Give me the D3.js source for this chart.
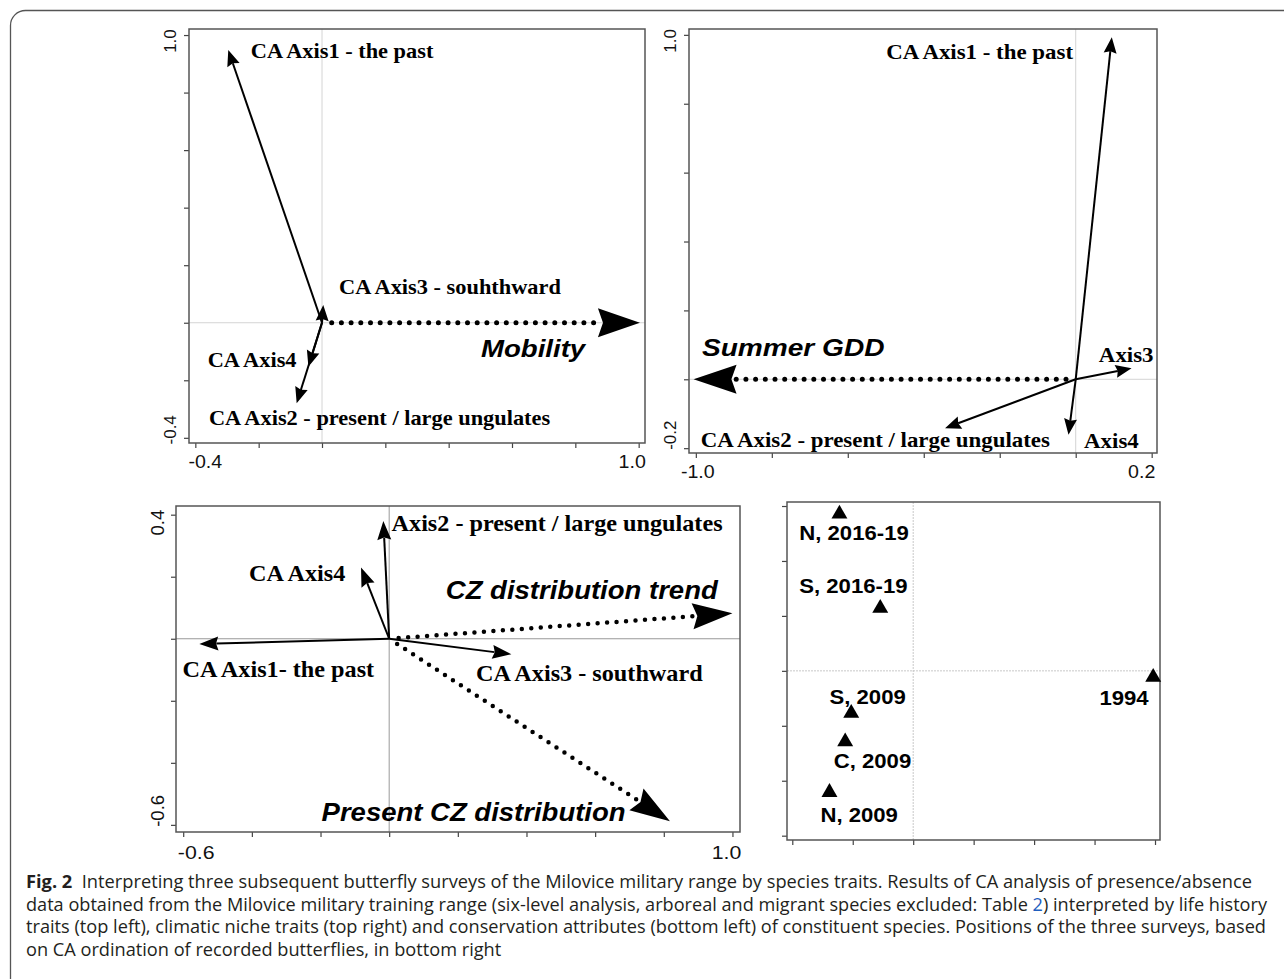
<!DOCTYPE html>
<html>
<head>
<meta charset="utf-8">
<script src="https://cdn.jsdelivr.net/npm/d3@7"></script>
<style>
  body { margin: 0; background: #fff; }
  svg { display: block; }
  .serif { font-family: "Liberation Serif", "Times New Roman", serif; font-weight: bold; fill: #000; }
  .trait { font-family: "Liberation Sans", Arial, sans-serif; font-weight: bold; font-style: italic; fill: #000; }
  .site { font-family: "Liberation Sans", Arial, sans-serif; font-weight: bold; fill: #000; }
  .ticklab { font-family: "Liberation Sans", Arial, sans-serif; fill: #111; }
  .caption { font-family: "Open Sans", "Noto Sans", sans-serif; fill: #231f20; white-space: pre; }
</style>
</head>
<body>
<script>
// ---- top left: life history traits ----
const lifeAxes = ["CA Axis1 - the past", "CA Axis3 - souhthward", "CA Axis4", "CA Axis2 - present / large ungulates"];
const lifeAxisX = [-0.296, 0.004, -0.043, -0.080];
const lifeAxisY = [0.948, 0.062, -0.153, -0.280];
const lifeTraits = ["Mobility"];
const lifeTraitX = [1.004];
const lifeTraitY = [0];
const lifeXTicks = [-0.4, -0.2, 0, 0.2, 0.4, 0.6, 0.8, 1.0];
const lifeYTicks = [-0.4, -0.2, 0, 0.2, 0.4, 0.6, 0.8, 1.0];
const lifeXLabels = ["-0.4", "1.0"];
const lifeYLabels = ["-0.4", "1.0"];

// ---- top right: climatic niche traits ----
const climAxes = ["CA Axis1 - the past", "Axis3", "Axis4", "CA Axis2 - present / large ungulates"];
const climAxisX = [0.095, 0.147, -0.019, -0.344];
const climAxisY = [0.993, 0.032, -0.161, -0.142];
const climTraits = ["Summer GDD"];
const climTraitX = [-1.006];
const climTraitY = [0];
const climXTicks = [-1.0, -0.8, -0.6, -0.4, -0.2, 0, 0.2];
const climYTicks = [-0.2, 0, 0.2, 0.4, 0.6, 0.8, 1.0];
const climXLabels = ["-1.0", "0.2"];
const climYLabels = ["-0.2", "1.0"];

// ---- bottom left: conservation attributes ----
const consAxes = ["CA Axis1- the past", "Axis2 - present / large ungulates", "CA Axis4", "CA Axis3 - southward"];
const consAxisX = [-0.553, -0.017, -0.082, 0.356];
const consAxisY = [-0.017, 0.380, 0.230, -0.050];
const consTraits = ["CZ distribution trend", "Present CZ distribution"];
const consTraitX = [1.000, 0.818];
const consTraitY = [0.082, -0.588];
const consXTicks = [-0.6, -0.4, -0.2, 0, 0.2, 0.4, 0.6, 0.8, 1.0];
const consYTicks = [-0.6, -0.4, -0.2, 0, 0.2, 0.4];
const consXLabels = ["-0.6", "1.0"];
const consYLabels = ["-0.6", "0.4"];

// ---- bottom right: survey positions ----
const surveys = ["N, 2016-19", "S, 2016-19", "1994", "S, 2009", "C, 2009", "N, 2009"];
const surveyX = [-0.244, -0.109, 0.794, -0.205, -0.225, -0.277];
const surveyY = [0.571, 0.228, -0.023, -0.154, -0.258, -0.442];
const siteXTicks = [-0.4, -0.2, 0, 0.2, 0.4, 0.6, 0.8];
const siteYTicks = [-0.6, -0.4, -0.2, 0, 0.2, 0.4, 0.6];

const captionLines = [
  ["Fig. 2", "\u00a0 Interpreting three subsequent butterfly surveys of the Milovice military range by species traits. Results of CA analysis of presence/absence"],
  ["", "data obtained from the Milovice military training range (six-level analysis, arboreal and migrant species excluded: Table ", "2", ") interpreted by life history"],
  ["", "traits (top left), climatic niche traits (top right) and conservation attributes (bottom left) of constituent species. Positions of the three surveys, based"],
  ["", "on CA ordination of recorded butterflies, in bottom right"]
];

const W = 1284, H = 979;
const svg = d3.select('body').append('svg').attr('width', W).attr('height', H);

svg.append('rect')
  .attr('x', 10.5).attr('y', 10.5).attr('width', 1320).attr('height', 985)
  .attr('rx', 15).attr('fill', 'none').attr('stroke', '#555').attr('stroke-width', 1.3);

function stretch(sel, k) {
  sel.each(function () {
    const w = this.getComputedTextLength();
    this.setAttribute('textLength', w * k);
    this.setAttribute('lengthAdjust', 'spacingAndGlyphs');
  });
}

function arrow(g, x0, y0, x1, y1, o) {
  const dx = x1 - x0, dy = y1 - y0, L = Math.hypot(dx, dy);
  const ux = dx / L, uy = dy / L;
  const bx = x1 - ux * o.len, by = y1 - uy * o.len;
  const line = g.append('line')
    .attr('x1', x0).attr('y1', y0)
    .attr('x2', bx + ux * 2).attr('y2', by + uy * 2)
    .attr('stroke', '#000').attr('stroke-width', o.width);
  if (o.dotted) {
    line.attr('stroke-dasharray', '0 ' + o.gap).attr('stroke-linecap', 'round')
      .attr('x1', x0 + ux * o.gap).attr('y1', y0 + uy * o.gap);
  }
  g.append('path')
    .attr('d', `M${x1},${y1}L${bx - uy * o.half},${by + ux * o.half}L${bx + ux * o.len * 0.12},${by + uy * o.len * 0.12}L${bx + uy * o.half},${by - ux * o.half}Z`)
    .attr('fill', '#000');
}

function panel(p) {
  const x = d3.scaleLinear().domain(p.xDomain).range([p.left, p.right]);
  const y = d3.scaleLinear().domain(p.yDomain).range([p.bottom, p.top]);
  const g = svg.append('g');

  // zero reference lines
  g.append('line').attr('x1', p.left).attr('x2', p.right).attr('y1', y(0)).attr('y2', y(0))
    .attr('stroke', p.zeroColor).attr('stroke-width', 1).attr('stroke-dasharray', p.zeroDash || null);
  g.append('line').attr('x1', x(0)).attr('x2', x(0)).attr('y1', p.top).attr('y2', p.bottom)
    .attr('stroke', p.zeroColor).attr('stroke-width', 1).attr('stroke-dasharray', p.zeroDash || null);

  // axes
  const xa = g.append('g').attr('transform', `translate(0,${p.bottom})`)
    .call(d3.axisBottom(x).tickValues(p.xTicks).tickSize(5).tickSizeOuter(0).tickFormat(''));
  const ya = g.append('g').attr('transform', `translate(${p.left},0)`)
    .call(d3.axisLeft(y).tickValues(p.yTicks).tickSize(5).tickSizeOuter(0).tickFormat(''));
  [xa, ya].forEach(a => {
    a.select('.domain').remove();
    a.selectAll('line').attr('stroke', '#444').attr('stroke-width', 1.2);
  });

  g.append('rect').attr('x', p.left).attr('y', p.top)
    .attr('width', p.right - p.left).attr('height', p.bottom - p.top)
    .attr('fill', 'none').attr('stroke', '#555').attr('stroke-width', 1.5);

  // tick labels, only first and last as in the original
  if (p.xLabels) {
    const ends = [p.xTicks[0], p.xTicks[p.xTicks.length - 1]];
    ends.forEach((v, i) => {
      g.append('text').attr('class', 'ticklab')
        .attr('x', x(v) + p.xShift[i]).attr('y', p.bottom + p.xLabDy)
        .attr('text-anchor', 'middle').attr('dominant-baseline', 'central')
        .style('font-size', p.tickSize + 'px').text(p.xLabels[i])
        .call(stretch, 1.12);
    });
    const yends = [p.yTicks[0], p.yTicks[p.yTicks.length - 1]];
    yends.forEach((v, i) => {
      const cx = p.left - 18, cy = y(v) + p.yShift[i];
      g.append('text').attr('class', 'ticklab')
        .attr('x', cx).attr('y', cy)
        .attr('transform', `rotate(-90,${cx},${cy})`)
        .attr('text-anchor', 'middle').attr('dominant-baseline', 'central')
        .style('font-size', (p.tickSize - 0.5) + 'px').text(p.yLabels[i]);
    });
  }
  return { g, x, y };
}

function biplot(p, axes, ax, ay, traits, tx, ty) {
  const { g, x, y } = panel(p);
  const x0 = x(0), y0 = y(0);
  traits.forEach((t, i) => {
    arrow(g, x0, y0, x(tx[i]), y(ty[i]), { len: p.bigLen, half: p.bigHalf, width: p.dotW, dotted: true, gap: p.dotGap });
  });
  axes.forEach((a, i) => {
    arrow(g, x0, y0, x(ax[i]), y(ay[i]), { len: p.smallLen, half: p.smallHalf, width: 2 });
  });
  axes.forEach((a, i) => {
    g.append('text').attr('class', 'serif')
      .attr('x', x(p.axisLab[i][0])).attr('y', y(p.axisLab[i][1]))
      .attr('dominant-baseline', 'central')
      .style('font-size', p.serifSize + 'px').text(a)
      .call(stretch, p.serifK);
  });
  traits.forEach((t, i) => {
    g.append('text').attr('class', 'trait')
      .attr('x', x(p.traitLab[i][0])).attr('y', y(p.traitLab[i][1]))
      .attr('dominant-baseline', 'central')
      .style('font-size', p.italSize + 'px').text(t)
      .call(stretch, p.italK);
  });
}

biplot({
  left: 189, right: 645, top: 29, bottom: 443,
  xDomain: [-0.42, 1.02], yDomain: [-0.418, 1.021],
  xTicks: lifeXTicks, yTicks: lifeYTicks, xLabels: lifeXLabels, yLabels: lifeYLabels,
  xShift: [10, -6.5], yShift: [-8, 6], xLabDy: 19, tickSize: 17.5,
  zeroColor: '#d4d4d4',
  smallLen: 16, smallHalf: 6.5, bigLen: 42, bigHalf: 14.5, dotW: 5, dotGap: 9.7,
  serifSize: 21.5, serifK: 1.04, italSize: 24, italK: 1.15,
  axisLab: [[-0.225, 0.945], [0.054, 0.124], [-0.361, -0.130], [-0.357, -0.331]],
  traitLab: [[0.502, -0.091]]
}, lifeAxes, lifeAxisX, lifeAxisY, lifeTraits, lifeTraitX, lifeTraitY);

biplot({
  left: 689, right: 1157, top: 29, bottom: 453,
  xDomain: [-1.018, 0.214], yDomain: [-0.214, 1.017],
  xTicks: climXTicks, yTicks: climYTicks, xLabels: climXLabels, yLabels: climYLabels,
  xShift: [2, -10], yShift: [-13, 6], xLabDy: 19, tickSize: 17.5,
  zeroColor: '#d4d4d4',
  smallLen: 16, smallHalf: 6.5, bigLen: 43, bigHalf: 14.5, dotW: 5, dotGap: 9.7,
  serifSize: 22, serifK: 1.04, italSize: 24, italK: 1.17,
  axisLab: [[-0.499, 0.951], [0.061, 0.071], [0.022, -0.178], [-0.987, -0.174]],
  traitLab: [[-0.984, 0.093]]
}, climAxes, climAxisX, climAxisY, climTraits, climTraitX, climTraitY);

biplot({
  left: 176, right: 740, top: 506, bottom: 832,
  xDomain: [-0.621, 1.022], yDomain: [-0.623, 0.428],
  xTicks: consXTicks, yTicks: consYTicks, xLabels: consXLabels, yLabels: consYLabels,
  xShift: [13, -6], yShift: [-14, 8], xLabDy: 20, tickSize: 19,
  zeroColor: '#999',
  smallLen: 19, smallHalf: 7, bigLen: 40, bigHalf: 13, dotW: 4.5, dotGap: 9.5,
  serifSize: 23.5, serifK: 1.03, italSize: 25, italK: 1.1,
  axisLab: [[-0.602, -0.098], [0.007, 0.372], [-0.408, 0.213], [0.253, -0.112]],
  traitLab: [[0.165, 0.157], [-0.197, -0.558]]
}, consAxes, consAxisX, consAxisY, consTraits, consTraitX, consTraitY);

// survey scores
const sitePanel = panel({
  left: 787, right: 1160, top: 502, bottom: 840,
  xDomain: [-0.4175, 0.8165], yDomain: [-0.6157, 0.6146],
  xTicks: siteXTicks, yTicks: siteYTicks,
  zeroColor: '#c8c8c8', zeroDash: '2 1'
});
const siteLab = [[-0.377, 0.502], [-0.377, 0.311], [0.616, -0.097], [-0.277, -0.094], [-0.263, -0.328], [-0.307, -0.522]];
sitePanel.g.selectAll('path.site')
  .data(surveys).enter().append('path')
  .attr('class', 'site')
  .attr('d', d3.symbol(d3.symbolTriangle, 110))
  .attr('transform', (d, i) => `translate(${sitePanel.x(surveyX[i])},${sitePanel.y(surveyY[i])})`)
  .attr('fill', '#000');
sitePanel.g.selectAll('text.sitelab')
  .data(surveys).enter().append('text')
  .attr('class', 'site sitelab')
  .attr('x', (d, i) => sitePanel.x(siteLab[i][0]))
  .attr('y', (d, i) => sitePanel.y(siteLab[i][1]))
  .attr('dominant-baseline', 'central')
  .style('font-size', '20.5px')
  .text(d => d)
  .call(stretch, 1.08);

// caption
const targets = [1226, 1241, 1240, null];
let factor = 1;
captionLines.forEach((parts, i) => {
  const t = svg.append('text').attr('class', 'caption')
    .attr('x', 26).attr('y', 888 + i * 22.5)
    .style('font-size', '17.5px');
  parts.forEach((s, j) => {
    if (!s) return;
    const ts = t.append('tspan').text(s);
    if (i === 0 && j === 0) ts.style('font-weight', 700);
    if (i === 1 && j === 2) ts.style('fill', '#1f5fbf');
  });
  const w = t.node().getComputedTextLength();
  if (targets[i]) factor = targets[i] / w;
  t.attr('textLength', w * factor).attr('lengthAdjust', 'spacingAndGlyphs');
});
</script>
</body>
</html>
